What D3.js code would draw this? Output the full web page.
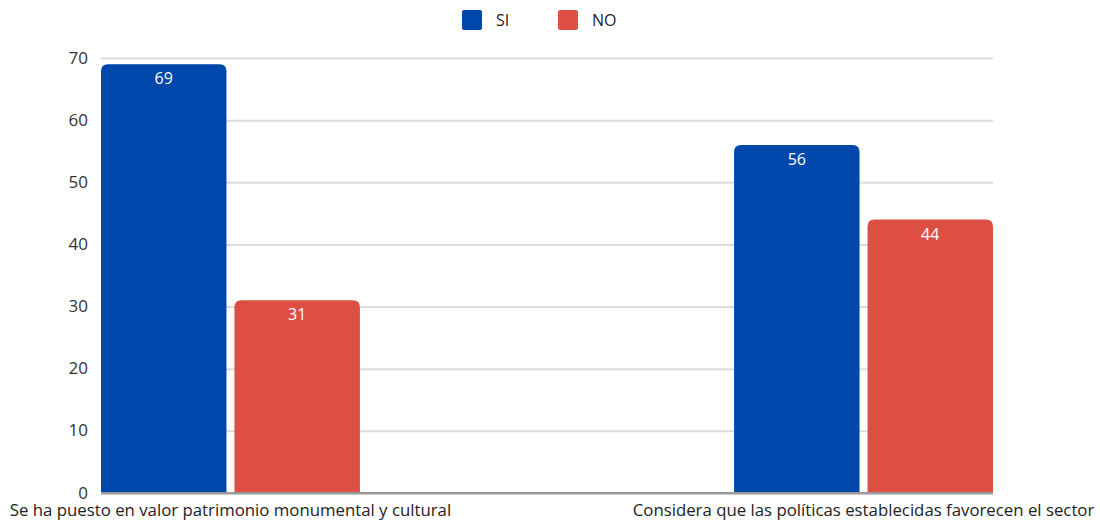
<!DOCTYPE html>
<html><head><meta charset="utf-8">
<script src="https://cdn.jsdelivr.net/npm/d3@7"></script>
<style>body{margin:0;background:#fff}svg{display:block;font-family:"Open Sans",sans-serif}</style>
</head><body><svg id="c" width="1100" height="521"></svg>
<script>
const categories = ["Se ha puesto en valor patrimonio monumental y cultural","Considera que las políticas establecidas favorecen el sector"];
const seriesNames = ["SI","NO"];
const siValues = [69,56];
const noValues = [31,44];
const yTicks = [0,10,20,30,40,50,60,70];
const colors = ["#0047AB","#DD4F45"];

(function(){
const svg = d3.select("#c");
const pl=101, pr=993, pt=58, pb=493;
const y = d3.scaleLinear().domain([0,70]).range([pb,pt]);
const x0 = d3.scaleBand().domain(categories).range([pl,pr]).paddingInner(0.591).paddingOuter(0);
const x1 = d3.scaleBand().domain(seriesNames).range([0,x0.bandwidth()]).paddingInner(0.06).paddingOuter(0);
const color = d3.scaleOrdinal().domain(seriesNames).range(colors);

const grid = svg.append("g").attr("transform",`translate(${pl},0)`)
  .call(d3.axisLeft(y).tickValues(yTicks).tickSize(-(pr-pl)).tickFormat(""));
grid.select(".domain").remove();
grid.selectAll("line").attr("stroke",d=>d===0?"#999":"#dcdcdc").attr("stroke-width",2);

const ya = svg.append("g").attr("transform",`translate(${pl},0)`)
  .call(d3.axisLeft(y).tickValues(yTicks).tickSize(0).tickPadding(13));
ya.select(".domain").remove();
ya.selectAll("text").attr("font-size",17).attr("fill","#333").attr("font-family","Open Sans").attr("dy","0.3em");

const data = categories.map((c,i)=>({cat:c, vals:[{k:"SI",v:siValues[i]},{k:"NO",v:noValues[i]}]}));
const r=7;
function barPath(x,w,yt,yb){
  return `M${x},${yb}V${yt+r}Q${x},${yt} ${x+r},${yt}H${x+w-r}Q${x+w},${yt} ${x+w},${yt+r}V${yb}Z`;
}
const g = svg.selectAll(".grp").data(data).enter().append("g").attr("transform",d=>`translate(${x0(d.cat)},0)`);
g.selectAll("path").data(d=>d.vals).enter().append("path")
  .attr("d",d=>barPath(x1(d.k),x1.bandwidth(),y(d.v),pb))
  .attr("fill",d=>color(d.k));
g.selectAll("text").data(d=>d.vals).enter().append("text")
  .attr("x",d=>x1(d.k)+x1.bandwidth()/2).attr("y",d=>y(d.v)+20)
  .attr("text-anchor","middle").attr("fill","#fff").attr("font-size",16)
  .text(d=>d.v);

svg.append("line").attr("x1",pl).attr("x2",pr).attr("y1",pb).attr("y2",pb).attr("stroke","#999").attr("stroke-width",2);

svg.selectAll(".xl").data(categories).enter().append("text")
  .attr("x",d=>x0(d)+x0.bandwidth()/2).attr("y",516)
  .attr("text-anchor","middle").attr("font-size",16.8).attr("fill","#222").text(d=>d);

const leg = svg.append("g");
const lx=[462,558];
seriesNames.forEach((s,i)=>{
  leg.append("rect").attr("x",lx[i]).attr("y",10).attr("width",20).attr("height",20).attr("rx",2).attr("fill",color(s));
  leg.append("text").attr("x",lx[i]+34).attr("y",26).attr("font-size",16).attr("fill","#222").text(s);
});
})();
</script></body></html>
